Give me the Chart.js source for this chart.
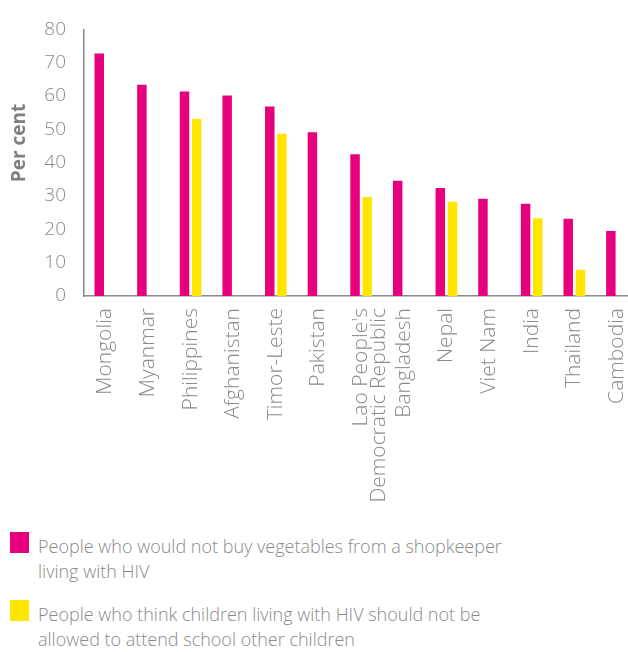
<!DOCTYPE html>
<html>
  <head>
    <title>HIV stigma</title>
    <script src="https://cdn.jsdelivr.net/npm/chart.js"></script>
    <style>
      body { margin: 0; background: #fff; }
      .wrap { position: relative; width: 628px; height: 652px; overflow: hidden; }
      /* the last category runs a little past the right edge in the original */
      .chart-box { position: absolute; left: 0; top: 0; width: 647px; height: 520px; }
      .legend { position: absolute; left: 10px; top: 534px; width: 508px; font-family: 'Open Sans', sans-serif; font-weight: 300; font-size: 18px; line-height: 25px; color: #8a8a8a; }
      .legend .item { position: relative; padding-left: 28px; margin-bottom: 18px; }
      .legend .box { position: absolute; left: 0; top: -2px; width: 19px; height: 21px; }
    </style>
  </head>
  <body>
    <div class="wrap">
      <div class="chart-box"><canvas id="stigma-chart"></canvas></div>
      <div class="legend" id="legend"></div>
    </div>
    <script>
      var countries = [
        'Mongolia', 'Myanmar', 'Philippines', 'Afghanistan', 'Timor-Leste', 'Pakistan',
        ["Lao People's", 'Democratic Republic'], 'Bangladesh', 'Nepal', 'Viet Nam',
        'India', 'Thailand', 'Cambodia'
      ];
      var vegetables = [72.8, 63.4, 61.4, 60.2, 56.9, 49.1, 42.5, 34.6, 32.4, 29.2, 27.7, 23.2, 19.5];
      var school = [null, null, 53.1, null, 48.7, null, 29.7, null, 28.3, null, 23.3, 7.9, null];
      var yTicks = [0, 10, 20, 30, 40, 50, 60, 70, 80];

      var labelVeg = 'People who would not buy vegetables from a shopkeeper living with HIV';
      var labelSchool = 'People who think children living with HIV should not be allowed to attend school other children';

      var grey = '#8a8a8a';
      var font = "'Open Sans', sans-serif";

      // y axis title sits a bit above the middle of the axis, so draw it by hand
      var yTitle = {
        id: 'yTitle',
        afterDraw: function (chart) {
          var c = chart.ctx;
          c.save();
          c.translate(20, 143);
          c.rotate(-Math.PI / 2);
          c.font = 'bold 19px ' + font;
          c.fillStyle = '#7f7f7f';
          c.textAlign = 'center';
          c.textBaseline = 'middle';
          c.fillText('Per cent', 0, 0);
          c.restore();
        },
      };

      var ctx = document.getElementById('stigma-chart').getContext('2d');

      var stigmaChart = new Chart(ctx, {
        type: 'bar',
        data: {
          labels: countries,
          datasets: [
            {
              label: labelVeg,
              data: vegetables,
              backgroundColor: '#e6007e',
              categoryPercentage: 0.57,
              barPercentage: 0.78,
            },
            {
              label: labelSchool,
              data: school,
              backgroundColor: '#ffe600',
              categoryPercentage: 0.57,
              barPercentage: 0.78,
            },
          ],
        },
        options: {
          responsive: true,
          maintainAspectRatio: false,
          animation: false,
          layout: { padding: { top: 25, right: 0, left: 0, bottom: 0 } },
          plugins: {
            legend: { display: false },
            tooltip: { enabled: false },
          },
          scales: {
            x: {
              grid: { display: false, drawTicks: false },
              border: { color: grey, width: 1.5 },
              ticks: {
                color: grey,
                font: { family: font, size: 21, weight: 300, lineHeight: 0.86 },
                minRotation: 90,
                maxRotation: 90,
                padding: 12,
                autoSkip: false,
              },
              afterFit: function (scale) { scale.height = 224; },
            },
            y: {
              min: 0,
              max: 80,
              afterBuildTicks: function (scale) {
                scale.ticks = yTicks.map(function (v) { return { value: v }; });
              },
              grid: { display: false, drawTicks: false },
              border: { color: grey, width: 1.5 },
              ticks: {
                color: grey,
                font: { family: font, size: 19, weight: 300 },
                padding: 18,
              },
              afterFit: function (scale) { scale.width = 84; },
            },
          },
        },
        plugins: [yTitle],
      });

      var legend = document.getElementById('legend');
      stigmaChart.data.datasets.forEach(function (ds) {
        var item = document.createElement('div');
        item.className = 'item';
        var box = document.createElement('span');
        box.className = 'box';
        box.style.background = ds.backgroundColor;
        item.appendChild(box);
        item.appendChild(document.createTextNode(ds.label));
        legend.appendChild(item);
      });
    </script>
  </body>
</html>
